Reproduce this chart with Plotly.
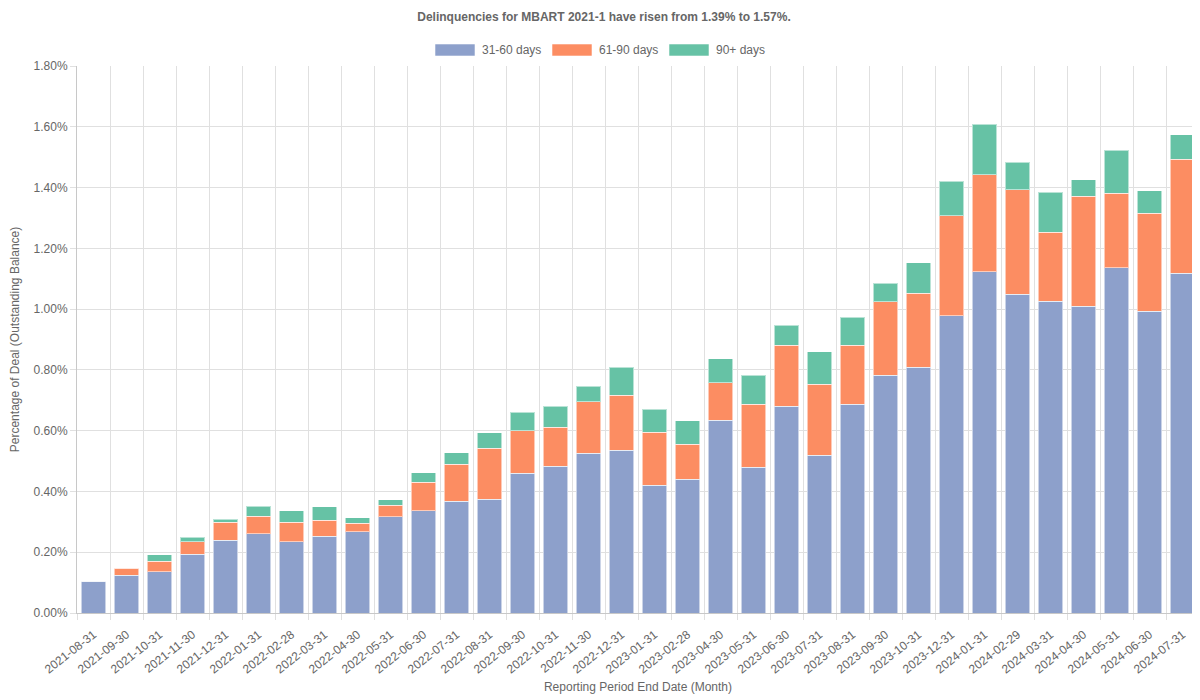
import plotly.graph_objects as go

dates = ["2021-08-31", "2021-09-30", "2021-10-31", "2021-11-30", "2021-12-31",
         "2022-01-31", "2022-02-28", "2022-03-31", "2022-04-30", "2022-05-31",
         "2022-06-30", "2022-07-31", "2022-08-31", "2022-09-30", "2022-10-31",
         "2022-11-30", "2022-12-31", "2023-01-31", "2023-02-28", "2023-04-30",
         "2023-05-31", "2023-06-30", "2023-07-31", "2023-08-31", "2023-09-30",
         "2023-10-31", "2023-12-31", "2024-01-31", "2024-02-29", "2024-03-31",
         "2024-04-30", "2024-05-31", "2024-06-30", "2024-07-31"]

d31_60 = [0.105, 0.125, 0.135, 0.194, 0.240, 0.260, 0.234, 0.253, 0.267, 0.316,
          0.337, 0.3675, 0.374, 0.460, 0.483, 0.5255, 0.535, 0.420, 0.440, 0.634,
          0.479, 0.680, 0.519, 0.687, 0.782, 0.8095, 0.978, 1.123, 1.049, 1.0256,
          1.009, 1.136, 0.993, 1.118]

d61_90 = [0.0, 0.023, 0.036, 0.040, 0.059, 0.059, 0.065, 0.053, 0.029, 0.039,
          0.093, 0.1225, 0.168, 0.139, 0.128, 0.1695, 0.181, 0.1745, 0.115, 0.124,
          0.208, 0.201, 0.2335, 0.194, 0.2425, 0.2425, 0.329, 0.319, 0.344, 0.2274,
          0.362, 0.245, 0.322, 0.375]

d90p = [0.0, 0.0, 0.020, 0.016, 0.010, 0.033, 0.037, 0.043, 0.017, 0.017,
        0.031, 0.0375, 0.051, 0.062, 0.070, 0.052, 0.0935, 0.0755, 0.077, 0.079,
        0.096, 0.066, 0.1065, 0.092, 0.0605, 0.101, 0.1135, 0.167, 0.091, 0.132,
        0.055, 0.1425, 0.075, 0.081]

series_names = ["31-60 days", "61-90 days", "90+ days"]
series_values = [d31_60, d61_90, d90p]
series_colors = ["#8DA0CB", "#FC8D62", "#66C2A5"]

# The page body has an 8px margin, so the figure is offset by 8px in the window.
OFF = 8
W, H = 1200 - OFF, 700 - OFF
ML, MR, MT, MB = 77 - OFF, 1, 66 - OFF, 87
PW, PH = W - ML - MR, H - MT - MB


def px_x(px):
    """window pixel x -> paper x"""
    return (px - OFF - ML) / PW


def px_y(py):
    """window pixel y -> paper y"""
    return (H - MB - (py - OFF)) / PH


fig = go.Figure()
for name, vals, color in zip(series_names, series_values, series_colors):
    fig.add_trace(go.Bar(
        x=dates, y=vals, name=name, showlegend=False,
        marker=dict(color=color, line=dict(color="rgba(255,255,255,0.55)", width=1)),
        hovertemplate="%{x}<br>" + name + ": %{y:.2f}%<extra></extra>",
    ))

# Chart.js-style legend: wide colour boxes followed by labels
legend_box_left = [435, 552, 669]
shapes, annotations = [], []
for name, color, bx in zip(series_names, series_colors, legend_box_left):
    shapes.append(dict(type="rect", xref="paper", yref="paper",
                       x0=px_x(bx), x1=px_x(bx + 40), y0=px_y(56), y1=px_y(44),
                       fillcolor=color, line=dict(color="rgba(255,255,255,0.55)", width=1)))
    annotations.append(dict(text=name, xref="paper", yref="paper",
                            x=px_x(bx + 45), y=px_y(50), xanchor="left", yanchor="middle",
                            showarrow=False, font=dict(size=12, color="#666666")))

font_family = "Liberation Sans, Arial, sans-serif"
fig.update_layout(
    barmode="stack",
    bargap=0.27,
    width=W, height=H,
    paper_bgcolor="white", plot_bgcolor="white",
    font=dict(family=font_family, color="#666666", size=12),
    title=dict(text="<b>Delinquencies for MBART 2021-1 have risen from 1.39% to 1.57%.</b>",
               x=0.5, xanchor="center", y=1 - 9 / H, yanchor="middle",
               yref="container", font=dict(size=12, color="#666666")),
    showlegend=False,
    shapes=shapes,
    annotations=annotations,
    margin=dict(l=ML, r=MR, t=MT, b=MB, autoexpand=False),
    xaxis=dict(
        type="category", tickson="boundaries", tickangle=-38, automargin=False,
        showgrid=True, gridcolor="#e0e0e0", gridwidth=1,
        ticks="outside", ticklen=6, tickcolor="#e0e0e0",
        ticklabelstandoff=9,
        showline=True, linecolor="#c8c8c8", linewidth=1,
        tickfont=dict(size=12, color="#666666"),
        title=dict(text="Reporting Period End Date (Month)", font=dict(size=12, color="#666666"), standoff=7),
    ),
    yaxis=dict(
        range=[0, 1.8], dtick=0.2, tickformat=".2f", ticksuffix="%", automargin=False,
        showgrid=True, gridcolor="#e0e0e0", gridwidth=1,
        ticks="outside", ticklen=6, tickcolor="#e0e0e0",
        showline=True, linecolor="#c8c8c8", linewidth=1,
        zeroline=False,
        tickfont=dict(size=12, color="#666666"),
        title=dict(text="Percentage of Deal (Outstanding Balance)", font=dict(size=12, color="#666666"), standoff=15),
    ),
)

fig.write_html("out.html")
